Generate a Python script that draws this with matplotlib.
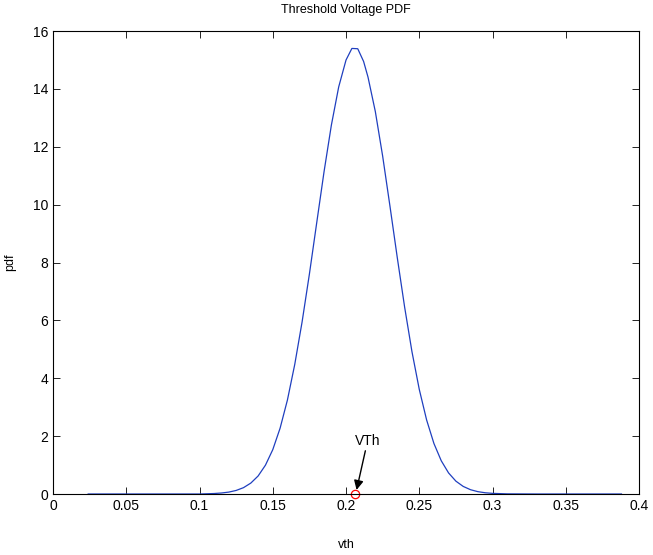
import matplotlib.pyplot as plt

plt.rcParams['font.family'] = ['Liberation Sans', 'DejaVu Sans']

# pdf curve
vth = [0.024, 0.05, 0.08, 0.10, 0.105, 0.110, 0.115, 0.120, 0.125, 0.130,
       0.135, 0.140, 0.145, 0.150, 0.155, 0.160, 0.165, 0.170, 0.175, 0.180,
       0.185, 0.190, 0.195, 0.200, 0.204, 0.208, 0.212, 0.215, 0.220, 0.225,
       0.230, 0.235, 0.240, 0.245, 0.250, 0.255, 0.260, 0.265, 0.270, 0.275,
       0.280, 0.285, 0.290, 0.295, 0.300, 0.310, 0.330, 0.360, 0.388]
pdf = [0.0, 0.0, 0.0, 0.0, 0.008, 0.017, 0.035, 0.066, 0.123, 0.219,
       0.377, 0.623, 0.997, 1.533, 2.275, 3.249, 4.479, 5.944, 7.602, 9.377,
       11.14, 12.75, 14.07, 15.00, 15.40, 15.39, 14.95, 14.41, 13.22, 11.68,
       9.946, 8.165, 6.460, 4.921, 3.615, 2.561, 1.746, 1.149, 0.728, 0.444,
       0.262, 0.148, 0.081, 0.043, 0.022, 0.005, 0.0, 0.0, 0.0]

vth_mean = 0.2058
xticks = [0, 0.05, 0.1, 0.15, 0.2, 0.25, 0.3, 0.35, 0.4]
xticklabels = ['0', '0.05', '0.1', '0.15', '0.2', '0.25', '0.3', '0.35', '0.4']
yticks = [0, 2, 4, 6, 8, 10, 12, 14, 16]

fig = plt.figure(figsize=(6.53, 5.55), dpi=100)
ax = fig.add_axes([0.0812, 0.1099, 0.8974, 0.8341])

ax.plot(vth, pdf, color='#1f3fbf', lw=0.9)
ax.plot([vth_mean], [0], 'o', mfc='none', mec='red', ms=6, mew=0.9, clip_on=False)

ax.annotate('VTh', xy=(0.2072, 0.14), xytext=(0.2147, 1.59),
            ha='center', va='bottom', fontsize=10,
            arrowprops=dict(arrowstyle='-|>', color='k', lw=1.0,
                            mutation_scale=14, shrinkA=0, shrinkB=0))

ax.set_xlim(0, 0.4)
ax.set_ylim(0, 16)
ax.set_xticks(xticks)
ax.set_xticklabels(xticklabels)
ax.set_yticks(yticks)
ax.tick_params(direction='in', top=True, right=True, labelsize=10, length=5, width=0.6)
for s in ax.spines.values():
    s.set_linewidth(0.8)

ax.set_title('Threshold Voltage PDF', fontsize=9, pad=13)
ax.set_xlabel('vth', fontsize=9, labelpad=19)
ax.set_ylabel('pdf', fontsize=9, labelpad=12)

fig.savefig('out.png', dpi=100)
